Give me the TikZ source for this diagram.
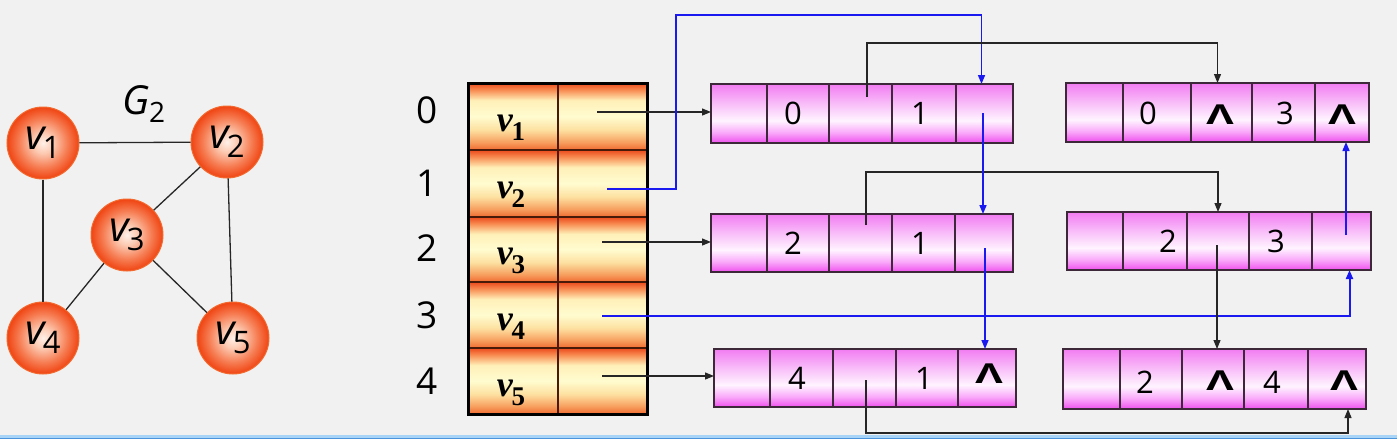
\documentclass[tikz,border=0pt]{standalone}
\usepackage{fontspec}
\setmainfont{Open Sans}
\newfontfamily\tnr{Liberation Serif}
\usetikzlibrary{arrows.meta,calc}

\definecolor{bg}{HTML}{F1F1F1}
\definecolor{ar1}{HTML}{EC4A1C}
\definecolor{ar2}{HTML}{F88A50}
\definecolor{ar3}{HTML}{FFF0B8}
\definecolor{ar4}{HTML}{FFFCD0}
\definecolor{ar5}{HTML}{FDE0A0}
\definecolor{ar6}{HTML}{F7A060}
\definecolor{ar7}{HTML}{F06A30}
\definecolor{mg1}{HTML}{F27CF2}
\definecolor{mg2}{HTML}{F8B8F8}
\definecolor{mg3}{HTML}{FFF4FF}
\definecolor{mg4}{HTML}{FAAAFA}
\definecolor{mg5}{HTML}{EE50EE}
\definecolor{b1}{HTML}{FFF0E8}
\definecolor{b2}{HTML}{FCCAB2}
\definecolor{b3}{HTML}{F67C52}
\definecolor{b4}{HTML}{F04412}
\definecolor{balledge}{HTML}{F26A30}
\definecolor{lnk}{HTML}{1A1AF0}
\definecolor{celledge}{HTML}{3C2838}
\definecolor{arredge}{HTML}{4A1A08}

\pgfdeclareverticalshading{arrshade}{100bp}{color(0bp)=(ar7); color(25bp)=(ar7); color(31bp)=(ar6); color(40bp)=(ar5); color(50bp)=(ar4); color(62bp)=(ar3); color(70bp)=(ar2); color(75bp)=(ar1); color(100bp)=(ar1)}
\pgfdeclareverticalshading{magshade}{100bp}{color(0bp)=(mg5); color(25bp)=(mg5); color(34bp)=(mg4); color(44bp)=(mg3); color(60bp)=(mg2); color(75bp)=(mg1); color(100bp)=(mg1)}
\pgfdeclareradialshading{ballshade}{\pgfpoint{0bp}{0bp}}{color(0bp)=(b1); color(7bp)=(b2); color(17bp)=(b3); color(25bp)=(b4); color(50bp)=(b4)}

\tikzset{
  lcell/.style={rectangle, draw=celledge, line width=1.5pt, shading=magshade, inner sep=0pt, outer sep=0pt},
  acell/.style={rectangle, draw=arredge, line width=1.5pt, shading=arrshade, inner sep=0pt, outer sep=0pt},
  gnode/.style={circle, minimum size=72pt, inner sep=0pt, shading=ballshade, draw=balledge, line width=1pt},
  gedge/.style={line width=1.3pt, black!85},
  blk/.style={line width=1.2pt, black!85, -{Triangle[length=9pt,width=7pt]}},
  blu/.style={line width=1.5pt, lnk, -{Triangle[length=9pt,width=7pt]}},
  idx/.style={font=\fontsize{37}{37}\selectfont, inner sep=0pt},
  dig/.style={font=\fontsize{31}{31}\selectfont, inner sep=0pt},
  nul/.style={font=\bfseries\fontsize{29}{29}\selectfont, inner sep=0pt},
}

\newcommand\cellbox[6]{\node[#6, minimum width={(#4-(#2))*1pt}, minimum height={(#5-(#3))*1pt}] (#1) at ({(#2+#4)/2},{(#3+#5)/2}) {};}
\newcommand\lrow[9]{%
  \cellbox{#11}{#4}{#2}{#5}{#3}{lcell}%
  \cellbox{#12}{#5}{#2}{#6}{#3}{lcell}%
  \cellbox{#13}{#6}{#2}{#7}{#3}{lcell}%
  \cellbox{#14}{#7}{#2}{#8}{#3}{lcell}%
  \cellbox{#15}{#8}{#2}{#9}{#3}{lcell}}
\newcommand\gv[1]{{\fontsize{42}{42}\selectfont\itshape v}\kern-2pt\raisebox{-9pt}{\fontsize{31}{31}\selectfont #1}}
\newcommand\av[1]{{\tnr\bfseries\itshape\fontsize{36}{36}\selectfont v}\kern-1pt\raisebox{-9pt}{\tnr\bfseries\fontsize{27}{27}\selectfont #1}}
\newcommand\nullsym{\scalebox{1.45}[0.95]{Λ}}

\begin{document}
\begin{tikzpicture}[x=1pt,y=-1pt]
\fill[bg] (0,0) rectangle (1397,439);
\useasboundingbox (0,0) rectangle (1397,439);
\fill[color={rgb,255:red,168;green,212;blue,248}] (0,435) rectangle (1397,437.5);
\fill[color={rgb,255:red,76;green,148;blue,220}] (0,437.5) rectangle (1397,439);

% ---------- graph G2 ----------
\node[font=\itshape\fontsize{40}{40}\selectfont, inner sep=0pt] (G) at (144,104) {G\kern-1pt\raisebox{-8pt}{\upshape\fontsize{28}{28}\selectfont 2}};
\node[gnode] (v1) at (43,143) {\gv{1}};
\node[gnode] (v2) at (227,142) {\gv{2}};
\node[gnode] (v3) at (127,235) {\gv{3}};
\node[gnode] (v4) at (43,338) {\gv{4}};
\node[gnode] (v5) at (233,338) {\gv{5}};
\draw[gedge] (v1) -- (v2);
\draw[gedge] (v1) -- (v4);
\draw[gedge] (v2) -- (v3);
\draw[gedge] (v2) -- (v5);
\draw[gedge] (v3) -- (v4);
\draw[gedge] (v3) -- (v5);

% ---------- index numbers ----------
\node[idx] (i0) at (427,110) {0};
\node[idx] (i1) at (427,183) {1};
\node[idx] (i2) at (427,248) {2};
\node[idx] (i3) at (427,315) {3};
\node[idx] (i4) at (427,381) {4};

% ---------- vertex array ----------
\cellbox{R0a}{468}{83}{558}{150}{acell}
\cellbox{R0b}{558}{83}{647}{150}{acell}
\cellbox{R1a}{468}{150}{558}{217}{acell}
\cellbox{R1b}{558}{150}{647}{217}{acell}
\cellbox{R2a}{468}{217}{558}{282}{acell}
\cellbox{R2b}{558}{217}{647}{282}{acell}
\cellbox{R3a}{468}{282}{558}{348}{acell}
\cellbox{R3b}{558}{282}{647}{348}{acell}
\cellbox{R4a}{468}{348}{558}{414}{acell}
\cellbox{R4b}{558}{348}{647}{414}{acell}
\draw[line width=3pt, black] (R0a.north west) rectangle (R4b.south east);
\node[inner sep=0pt] (l0) at (511,128) {\av{1}};
\node[inner sep=0pt] (l1) at (511,195) {\av{2}};
\node[inner sep=0pt] (l2) at (511,261) {\av{3}};
\node[inner sep=0pt] (l3) at (511,327) {\av{4}};
\node[inner sep=0pt] (l4) at (511,393) {\av{5}};

% ---------- edge nodes ----------
\lrow{A}{84}{143}{711}{767}{829}{892}{956}{1013}
\lrow{B}{214}{272}{711}{767}{829}{892}{955}{1013}
\lrow{C}{349}{407}{714}{770}{833}{896}{958}{1016}
\lrow{D}{83}{142}{1066}{1123}{1191}{1252}{1315}{1369}
\lrow{E}{212}{270}{1067}{1123}{1187}{1249}{1312}{1371}
\lrow{F}{349}{409}{1063}{1120}{1182}{1244}{1308}{1366}

\node[dig] (tA2) at (793,113) {0};
\node[dig] (tA4) at (920,113) {1};
\node[dig] (tB2) at (793,243) {2};
\node[dig] (tB4) at (920,243) {1};
\node[dig] (tC2) at (797,378) {4};
\node[dig] (tC4) at (924,378) {1};
\node[nul] (tC5) at (989,374) {\nullsym};
\node[dig] (tD2) at (1148,113) {0};
\node[nul] (tD3) at (1220,115) {\nullsym};
\node[dig] (tD4) at (1285,113) {3};
\node[nul] (tD5) at (1342,115) {\nullsym};
\node[dig] (tE2) at (1168,241) {2};
\node[dig] (tE4) at (1276,241) {3};
\node[dig] (tF2) at (1145,382) {2};
\node[nul] (tF3) at (1220,381) {\nullsym};
\node[dig] (tF4) at (1272,382) {4};
\node[nul] (tF5) at (1344,381) {\nullsym};

% ---------- pointer origins ----------
\coordinate (p0) at (597,112);
\coordinate (p1) at (607,189);
\coordinate (p2) at (602,242);
\coordinate (p3) at (602,316);
\coordinate (p4) at (602,376);
\coordinate (a3s) at (867,97);
\coordinate (a5s) at (983,113);
\coordinate (b3s) at (866,225);
\coordinate (b5s) at (985,248);
\coordinate (c3s) at (866,380);
\coordinate (e3s) at (1217,245);
\coordinate (e5s) at (1346,235);

% ---------- connectors ----------
\draw[blk] (p0) -- (p0 -| A1.west);
\draw[blk] (p2) -- (p2 -| B1.west);
\draw[blk] (p4) -- (p4 -| C1.west);
\draw[blu] (p1) -- ++(69,0) -- ++(0,-174) -| ([xshift=-3pt]A5.north);
\draw[blu, line width=2pt] (p3) -| ([xshift=8pt]E5.south);
\draw[blk] (a3s) -- ++(0,-54) -| ([xshift=-4pt]D3.north);
\draw[blk] (b3s) -- ++(0,-53) -| (E3.north);
\draw[blu] (a5s) -- (a5s |- B5.north);
\draw[blu] (b5s) -- (b5s |- C5.north);
\draw[blu] (e5s) -- (e5s |- D5.south);
\draw[blk] (e3s) -- (e3s |- F3.north);
\draw[blk] (c3s) -- ++(0,53) -| ([xshift=11pt]F5.south);
\end{tikzpicture}
\end{document}
